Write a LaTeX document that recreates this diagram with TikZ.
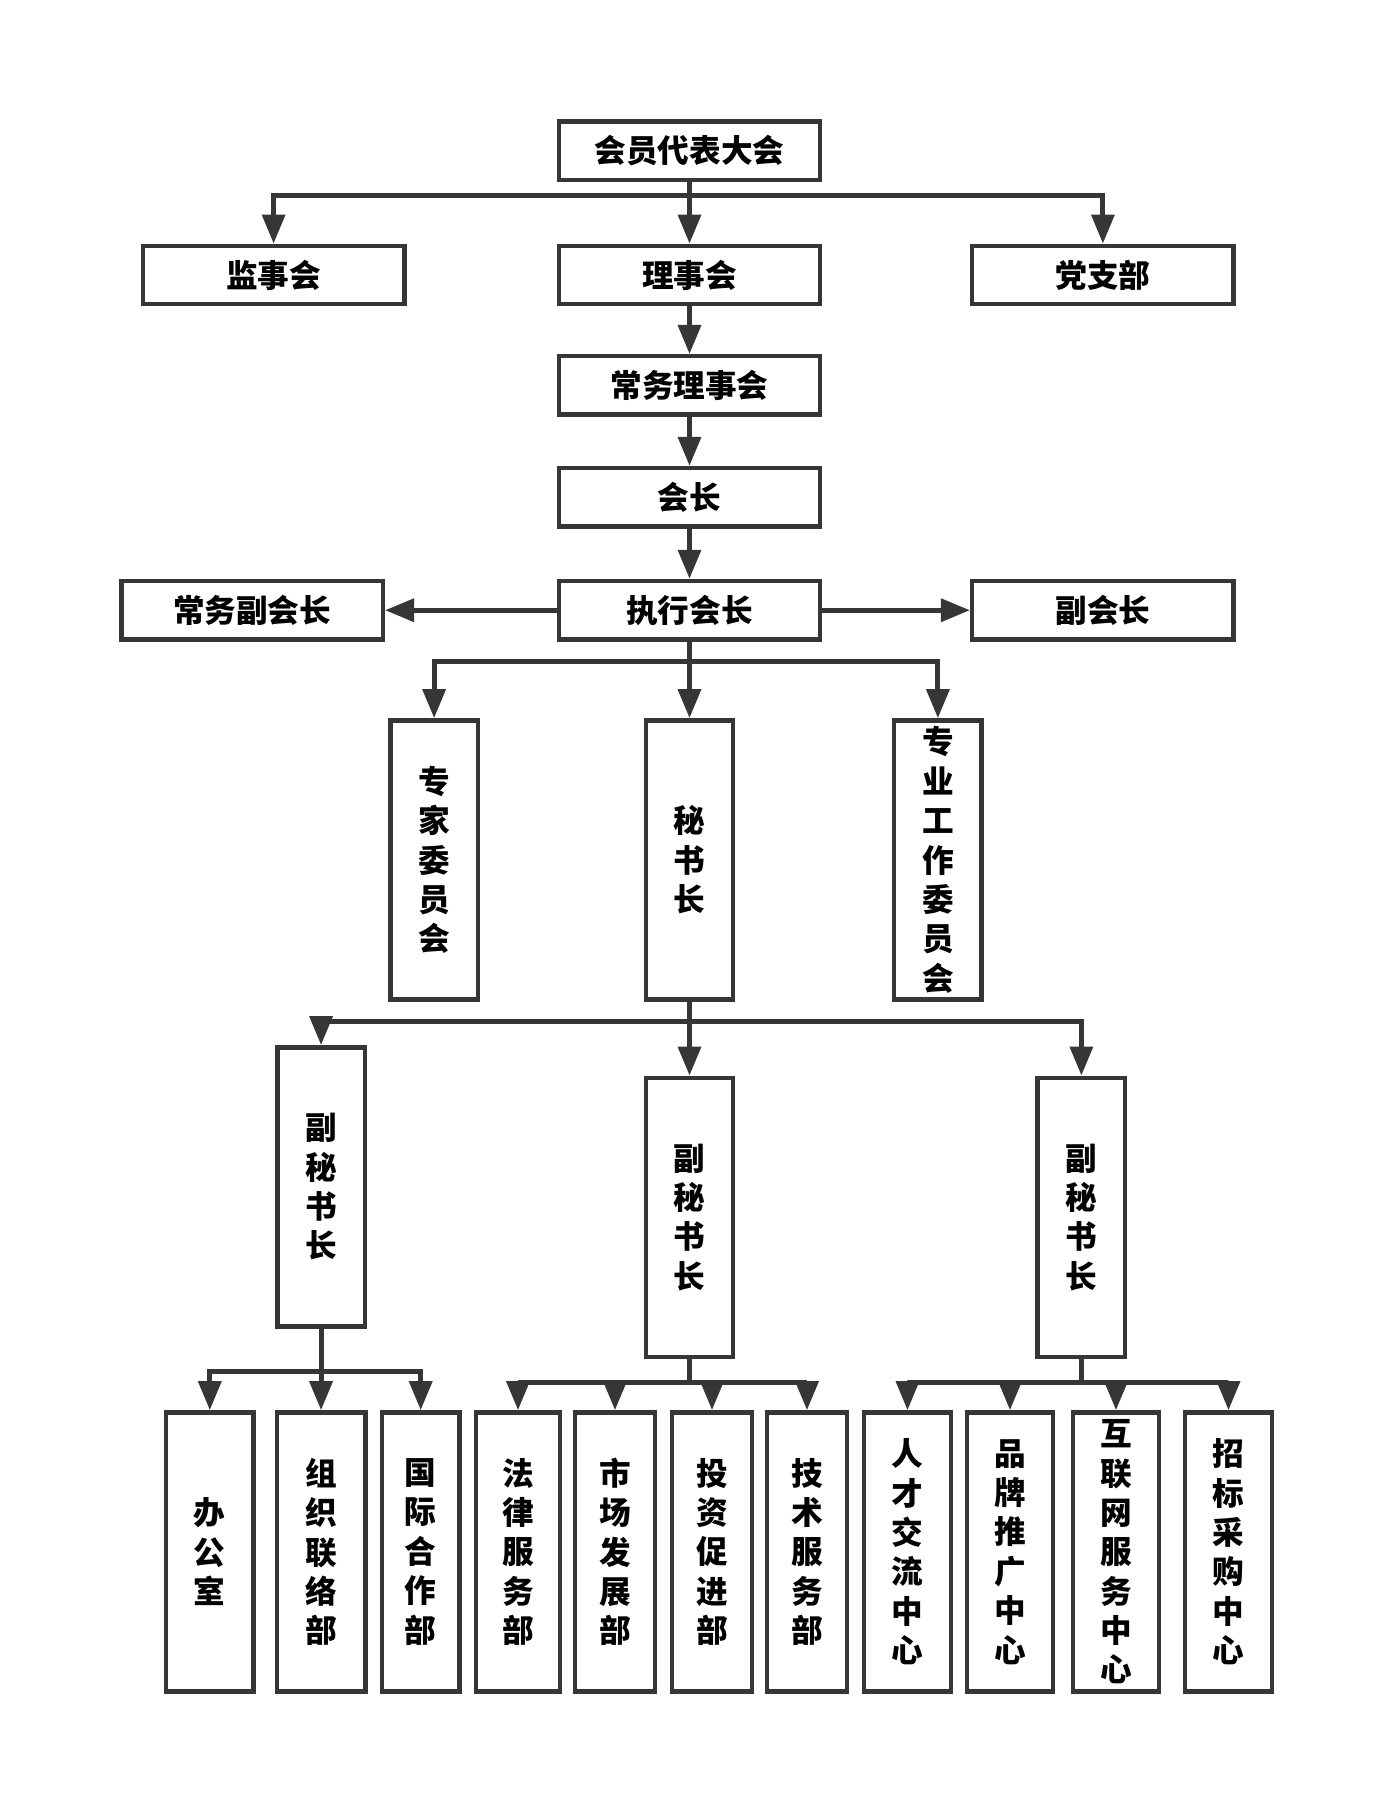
\documentclass[tikz,border=0pt]{standalone}
\usepackage{fontspec}
\newfontfamily\cjk{Noto Sans CJK SC}
\usepackage{tikz}
\usetikzlibrary{positioning}
\usetikzlibrary{arrows.meta}
\definecolor{linegray}{HTML}{363636}
\tikzset{node distance=1cm, % default gap between boxes
every node/.style={ % text of every box
font=\cjk\bfseries\fontsize{18}{22.4}\selectfont,
text=black},
wbox/.style={ % wide boxes, one line of text
draw=linegray, line width=2.5pt, fill=white,
minimum width=5.23cm, minimum height=1.17cm, inner sep=0pt},
tbox/.style={ % tall boxes, text set top to bottom
draw=linegray, line width=2.5pt, fill=white, align=center,
minimum width=1.75cm, minimum height=5.58cm, inner sep=0pt},
link/.style={ % connectors
draw=linegray, line width=2.8pt,
-{Triangle[length=0.58cm,width=0.45cm]}}}

\begin{document}
\begin{tikzpicture}
    \useasboundingbox (0,0) rectangle (27.84,-36.34);
    % top of the tree
    \node[wbox] (congress) at (13.79,-3.013) {会员代表大会};
    \node[wbox, below=1.23cm of congress] (board) {理事会};
    \node[wbox, left=3.0cm of board] (supervisors) {监事会};
    \node[wbox, right=2.95cm of board] (party) {党支部};
    \node[wbox, below=0.95cm of board] (standing) {常务理事会};
    \node[wbox, below=0.98cm of standing] (president) {会长};
    \node[wbox, below=1.0cm of president] (exec) {执行会长};
    \node[wbox, left=3.43cm of exec] (svp) {常务副会长};
    \node[wbox, right=2.95cm of exec] (vp) {副会长};
    % second level
    \node[tbox, below=1.53cm of exec] (secgen) {秘\\书\\长};
    \node[tbox, left=3.27cm of secgen] (experts) {专\\家\\委\\员\\会};
    \node[tbox, right=3.13cm of secgen] (committees) {专\\业\\工\\作\\委\\员\\会};
    \node[tbox, below=1.48cm of secgen] (dsg2) {副\\秘\\书\\长};
    \node[tbox, right=6.0cm of dsg2] (dsg3) {副\\秘\\书\\长};
    \node[tbox] (dsg1) at (6.421,-23.736) {副\\秘\\书\\长};
    % departments
    \node[tbox, minimum width=1.75cm] (office) at (4.196,-31.038) {办\\公\\室};
    \node[tbox, minimum width=1.77cm] (liaison) at (6.421,-31.038) {组\\织\\联\\络\\部};
    \node[tbox, minimum width=1.55cm] (intl) at (8.414,-31.038) {国\\际\\合\\作\\部};
    \node[tbox, minimum width=1.68cm] (legal) at (10.36,-31.038) {法\\律\\服\\务\\部};
    \node[tbox, minimum width=1.59cm] (market) at (12.3,-31.038) {市\\场\\发\\展\\部};
    \node[tbox, minimum width=1.61cm] (invest) at (14.24,-31.038) {投\\资\\促\\进\\部};
    \node[tbox, minimum width=1.59cm] (tech) at (16.14,-31.038) {技\\术\\服\\务\\部};
    \node[tbox, minimum width=1.73cm] (talent) at (18.15,-31.038) {人\\才\\交\\流\\中\\心};
    \node[tbox, minimum width=1.73cm] (brand) at (20.2,-31.038) {品\\牌\\推\\广\\中\\心};
    \node[tbox, minimum width=1.73cm] (web) at (22.32,-31.038) {互\\联\\网\\服\\务\\中\\心};
    \node[tbox, minimum width=1.73cm] (bidding) at (24.57,-31.038) {招\\标\\采\\购\\中\\心};
    % heights of the branching lines
    \coordinate (bus1) at (0,-3.917);
    \coordinate (bus2) at (0,-13.236);
    \coordinate (bus3) at (0,-20.422);
    \coordinate (bus4) at (0,-27.422);
    \coordinate (bus5) at (0,-27.654);
    \draw[link] (congress.south) -- (congress.south |- bus1) -| (supervisors.north);
    \draw[link] (congress.south) -- (board.north);
    \draw[link] (congress.south) -- (congress.south |- bus1) -| (party.north);
    \draw[link] (board) -- (standing);
    \draw[link] (standing) -- (president);
    \draw[link] (president) -- (exec);
    \draw[link] (exec) -- (svp);
    \draw[link] (exec) -- (vp);
    \draw[link] (exec.south) -- (exec.south |- bus2) -| (experts.north);
    \draw[link] (exec.south) -- (secgen.north);
    \draw[link] (exec.south) -- (exec.south |- bus2) -| (committees.north);
    \draw[link] (secgen.south) -- (secgen.south |- bus3) -| (dsg1.north);
    \draw[link] (secgen.south) -- (dsg2.north);
    \draw[link] (secgen.south) -- (secgen.south |- bus3) -| (dsg3.north);
    \foreach \dept in {office,liaison,intl}
      \draw[link] (dsg1.south) -- (dsg1.south |- bus4) -| (\dept.north);
    \foreach \dept in {legal,market,invest,tech}
      \draw[link] (dsg2.south) -- (dsg2.south |- bus5) -| (\dept.north);
    \foreach \dept in {talent,brand,web,bidding}
      \draw[link] (dsg3.south) -- (dsg3.south |- bus5) -| (\dept.north);
\end{tikzpicture}
\end{document}
